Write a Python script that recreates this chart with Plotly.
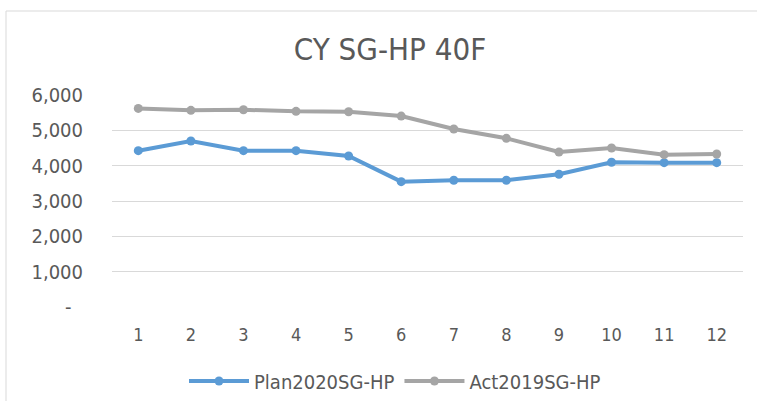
import plotly.graph_objects as go

months = ["1", "2", "3", "4", "5", "6", "7", "8", "9", "10", "11", "12"]
plan2020 = [4424, 4698, 4424, 4424, 4274, 3548, 3588, 3588, 3757, 4096, 4085, 4085]
act2019 = [5621, 5565, 5582, 5537, 5525, 5404, 5037, 4774, 4387, 4500, 4311, 4330]
y_tickvals = [0, 1000, 2000, 3000, 4000, 5000, 6000]
y_ticktext = ["-\u00a0\u00a0", "1,000", "2,000", "3,000", "4,000", "5,000", "6,000"]

W, H = 757, 401
L, R, T, B = 112, 14, 95, 94
pw, ph = W - L - R, H - T - B

def px_x(p):
    return (p - L) / pw

def px_y(p):
    return (H - B - p) / ph

font_family = "DejaVu Sans Condensed, DejaVu Sans, sans-serif"
txt = "#595959"

fig = go.Figure()
fig.add_trace(go.Scatter(x=months, y=plan2020, name="Plan2020SG-HP", mode="lines+markers",
                         line=dict(color="#5B9BD5", width=4), marker=dict(size=9, color="#5B9BD5")))
fig.add_trace(go.Scatter(x=months, y=act2019, name="Act2019SG-HP", mode="lines+markers",
                         line=dict(color="#A5A5A5", width=4), marker=dict(size=9, color="#A5A5A5")))

fig.update_layout(
    width=W, height=H,
    margin=dict(l=L, r=R, t=T, b=B, autoexpand=False),
    paper_bgcolor="white", plot_bgcolor="white",
    font=dict(family=font_family, color=txt, size=18),
    title=dict(text="CY SG-HP 40F", x=390 / W, xanchor="center", y=1 - 49 / H, yanchor="middle",
               font=dict(size=31, color=txt)),
    showlegend=True,
    legend=dict(orientation="h", xref="container", yref="container", x=395 / W, xanchor="center",
                y=1 - 381 / H, yanchor="middle",
                font=dict(size=20, color=txt), itemwidth=60, traceorder="normal"),
    xaxis=dict(type="category", range=[-0.5, 11.5], showgrid=False, showline=False, ticks="",
               tickfont=dict(size=18, color=txt), zeroline=False, ticklabelstandoff=15, automargin=False),
    yaxis=dict(range=[0, 6000], tickvals=y_tickvals, ticktext=y_ticktext, showgrid=True,
               gridcolor="#D9D9D9", gridwidth=1, zeroline=False, showline=False, ticks="",
               tickfont=dict(size=20, color=txt), ticklabelstandoff=28, automargin=False),
    shapes=[dict(type="rect", xref="paper", yref="paper", x0=px_x(6), x1=px_x(800), y0=px_y(420), y1=px_y(11),
                 line=dict(color="#D9D9D9", width=1), fillcolor="rgba(0,0,0,0)", layer="below")],
)

fig.write_html("out.html", config={"displayModeBar": False},
               post_script="document.body.style.margin='0px';document.body.style.padding='0px';")
